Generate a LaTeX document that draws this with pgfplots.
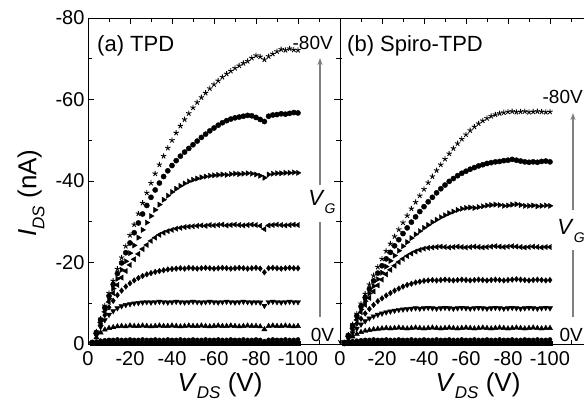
\documentclass[border=0pt]{standalone}
\usepackage{fontspec}
\setmainfont{Liberation Sans}
\usepackage{pgfplots}
\usepackage{pgfplotstable}
\pgfplotsset{compat=1.18}
\usetikzlibrary{arrows.meta}

\newcommand\fs[1]{\fontsize{#1}{#1}\selectfont}

% (a) TPD: I_DS (nA) vs V_DS (V), one column per gate voltage
\pgfplotstableread{
V g0 g10 g20 g30 g40 g50 g60 g70 g80
-2 -0.1 -0.2 -0.3 -0.3 -0.3 -0.3 -0.3 -0.3 -0.3
-4 -0.2 -0.6 -1.6 -2.1 -2.4 -2.6 -2.7 -2.8 -3.0
-6 -0.2 -0.8 -2.8 -4.2 -4.9 -5.3 -5.6 -5.9 -6.2
-8 -0.2 -0.9 -3.5 -5.9 -7.1 -7.9 -8.4 -8.9 -9.4
-10 -0.3 -1.0 -3.9 -7.2 -9.0 -10.3 -11.1 -11.8 -12.5
-12 -0.2 -1.0 -4.1 -8.1 -10.6 -12.5 -13.6 -14.6 -15.5
-14 -0.2 -1.1 -4.3 -8.8 -12.0 -14.5 -16.0 -17.3 -18.4
-16 -0.3 -1.0 -4.4 -9.3 -13.1 -16.3 -18.2 -19.9 -21.2
-18 -0.2 -1.0 -4.3 -9.6 -14.1 -17.9 -20.3 -22.4 -24.0
-20 -0.2 -1.1 -4.5 -9.8 -14.9 -19.4 -22.3 -24.8 -26.7
-22 -0.3 -1.0 -4.4 -10.0 -15.6 -20.8 -24.2 -27.3 -29.3
-24 -0.2 -1.0 -4.4 -10.1 -16.2 -22.1 -26.1 -29.7 -32.0
-26 -0.2 -1.1 -4.5 -10.2 -16.7 -23.3 -28.0 -31.9 -34.6
-28 -0.3 -1.0 -4.4 -10.3 -17.1 -24.3 -29.8 -34.0 -37.1
-30 -0.2 -1.0 -4.3 -10.2 -17.4 -25.3 -31.4 -36.0 -39.5
-32 -0.2 -1.1 -4.4 -10.3 -17.7 -26.1 -32.9 -37.8 -41.8
-34 -0.3 -1.0 -4.5 -10.4 -17.9 -26.8 -34.2 -39.5 -44.0
-36 -0.2 -1.0 -4.4 -10.3 -18.1 -27.3 -35.4 -41.1 -46.1
-38 -0.2 -1.1 -4.4 -10.2 -18.3 -27.7 -36.4 -42.5 -48.1
-40 -0.3 -1.0 -4.5 -10.3 -18.4 -28.0 -37.3 -43.8 -50.0
-42 -0.2 -1.0 -4.4 -10.4 -18.5 -28.3 -38.1 -45.0 -51.8
-44 -0.2 -1.1 -4.3 -10.3 -18.6 -28.5 -38.8 -46.1 -53.5
-46 -0.3 -1.0 -4.4 -10.2 -18.5 -28.7 -39.4 -47.1 -55.1
-48 -0.2 -1.0 -4.5 -10.3 -18.7 -28.8 -39.9 -48.0 -56.6
-50 -0.2 -1.1 -4.4 -10.4 -18.6 -28.9 -40.3 -48.9 -58.0
-52 -0.3 -1.0 -4.4 -10.3 -18.5 -29.0 -40.6 -49.8 -59.3
-54 -0.2 -1.0 -4.5 -10.2 -18.6 -29.1 -40.9 -50.7 -60.5
-56 -0.2 -1.1 -4.4 -10.3 -18.7 -29.0 -41.1 -51.5 -61.6
-58 -0.3 -1.0 -4.3 -10.4 -18.6 -29.2 -41.3 -52.3 -62.7
-60 -0.2 -1.0 -4.4 -10.3 -18.5 -29.1 -41.4 -53.0 -63.7
-62 -0.2 -1.1 -4.5 -10.2 -18.6 -29.2 -41.5 -53.7 -64.6
-64 -0.3 -1.0 -4.4 -10.3 -18.7 -29.3 -41.6 -54.3 -65.5
-66 -0.2 -1.0 -4.4 -10.4 -18.6 -29.1 -41.5 -54.8 -66.3
-68 -0.2 -1.1 -4.5 -10.3 -18.5 -29.2 -41.7 -55.2 -67.0
-70 -0.3 -1.0 -4.4 -10.2 -18.6 -29.3 -41.8 -55.5 -67.7
-72 -0.2 -1.0 -4.3 -10.3 -18.7 -29.2 -41.7 -55.7 -68.3
-74 -0.2 -1.1 -4.4 -10.4 -18.6 -29.1 -41.8 -55.9 -68.9
-76 -0.3 -1.0 -4.5 -10.3 -18.5 -29.2 -41.9 -56.1 -69.4
-78 -0.2 -1.0 -4.4 -10.2 -18.6 -29.3 -41.8 -56.0 -70.2
-80 -0.2 -1.1 -4.4 -10.3 -18.7 -29.2 -41.6 -55.6 -70.8
-82 -0.3 -1.0 -4.3 -10.2 -18.5 -29.0 -41.3 -55.1 -70.5
-84 -0.1 -0.7 -3.6 -9.4 -17.6 -28.2 -40.8 -54.6 -69.8
-86 -0.2 -1.0 -4.4 -10.3 -18.6 -29.1 -41.6 -55.9 -70.6
-88 -0.2 -1.1 -4.5 -10.4 -18.7 -29.2 -41.8 -56.2 -71.2
-90 -0.3 -1.0 -4.4 -10.3 -18.6 -29.3 -41.9 -56.3 -71.8
-92 -0.2 -1.0 -4.4 -10.2 -18.5 -29.2 -41.9 -56.5 -72.3
-94 -0.2 -1.1 -4.5 -10.3 -18.6 -29.1 -42.0 -56.4 -72.1
-96 -0.3 -1.0 -4.4 -10.4 -18.7 -29.2 -42.0 -56.6 -72.5
-98 -0.2 -1.0 -4.3 -10.3 -18.6 -29.3 -42.1 -56.8 -72.2
-100 -0.2 -1.1 -4.4 -10.3 -18.6 -29.2 -42.0 -56.7 -72.1
}\tpd

% (b) Spiro-TPD
\pgfplotstableread{
V g0 g10 g20 g30 g40 g50 g60 g70 g80
-2 -0.1 -0.1 -0.2 -0.2 -0.3 -0.3 -0.3 -0.3 -0.3
-4 -0.2 -0.5 -1.0 -1.4 -1.7 -1.9 -2.0 -2.1 -2.2
-6 -0.2 -0.7 -1.8 -2.7 -3.5 -3.9 -4.2 -4.5 -4.8
-8 -0.3 -0.8 -2.4 -3.8 -5.0 -5.9 -6.4 -6.9 -7.4
-10 -0.2 -0.9 -2.9 -4.8 -6.2 -7.8 -8.5 -9.2 -9.9
-12 -0.2 -1.0 -3.2 -5.6 -7.5 -9.6 -10.5 -11.4 -12.3
-14 -0.3 -1.0 -3.4 -6.3 -8.6 -11.3 -12.4 -13.5 -14.6
-16 -0.2 -1.1 -3.6 -6.8 -9.6 -12.9 -14.2 -15.5 -16.8
-18 -0.2 -1.0 -3.7 -7.2 -10.5 -14.4 -15.9 -17.4 -18.9
-20 -0.3 -1.0 -3.8 -7.5 -11.2 -15.8 -17.5 -19.2 -20.9
-22 -0.2 -1.1 -3.9 -7.8 -11.9 -17.1 -19.0 -20.9 -22.8
-24 -0.2 -1.0 -3.8 -8.0 -12.5 -18.2 -20.4 -22.5 -24.6
-26 -0.3 -1.0 -3.9 -8.2 -13.1 -19.2 -21.7 -24.1 -26.4
-28 -0.2 -1.1 -4.0 -8.4 -13.6 -20.1 -22.9 -25.6 -28.1
-30 -0.2 -1.0 -3.9 -8.5 -14.1 -20.9 -24.0 -27.1 -29.8
-32 -0.3 -1.0 -3.8 -8.6 -14.5 -21.6 -25.0 -28.5 -31.5
-34 -0.2 -1.1 -3.9 -8.7 -14.8 -22.2 -26.0 -29.9 -33.2
-36 -0.2 -1.0 -4.0 -8.8 -15.1 -22.7 -26.9 -31.2 -34.8
-38 -0.3 -1.0 -3.9 -8.7 -15.3 -23.1 -27.7 -32.5 -36.4
-40 -0.2 -1.1 -3.8 -8.8 -15.5 -23.4 -28.5 -33.7 -38.0
-42 -0.2 -1.0 -3.9 -8.9 -15.6 -23.6 -29.2 -34.9 -39.6
-44 -0.3 -1.0 -4.0 -8.8 -15.7 -23.7 -29.9 -36.0 -41.1
-46 -0.2 -1.1 -3.9 -8.7 -15.6 -23.8 -30.5 -37.1 -42.6
-48 -0.2 -1.0 -3.8 -8.8 -15.7 -23.9 -31.1 -38.1 -44.0
-50 -0.3 -1.0 -3.9 -8.9 -15.8 -23.8 -31.6 -39.0 -45.4
-52 -0.2 -1.1 -4.0 -8.8 -15.7 -23.7 -32.1 -39.9 -46.7
-54 -0.2 -1.0 -3.9 -8.7 -15.6 -23.8 -32.5 -40.6 -48.0
-56 -0.3 -1.0 -3.8 -8.8 -15.7 -23.9 -32.9 -41.3 -49.2
-58 -0.2 -1.1 -3.9 -8.9 -15.8 -23.8 -33.2 -41.9 -50.3
-60 -0.2 -1.0 -4.0 -8.8 -15.7 -23.7 -33.4 -42.4 -51.4
-62 -0.3 -1.0 -3.9 -8.7 -15.6 -23.8 -33.5 -42.9 -52.4
-64 -0.2 -1.1 -3.8 -8.8 -15.7 -23.9 -33.4 -43.3 -53.3
-66 -0.2 -1.0 -3.9 -8.9 -15.8 -23.8 -33.6 -43.7 -54.1
-68 -0.3 -1.0 -4.0 -8.8 -15.7 -23.7 -33.8 -44.0 -54.8
-70 -0.2 -1.1 -3.9 -8.7 -15.6 -23.8 -34.0 -44.3 -55.4
-72 -0.2 -1.0 -3.8 -8.8 -15.7 -23.9 -34.1 -44.5 -55.9
-74 -0.3 -1.0 -3.9 -8.9 -15.8 -24.0 -34.2 -44.7 -56.3
-76 -0.2 -1.1 -4.0 -8.8 -15.7 -23.9 -34.1 -44.8 -56.6
-78 -0.2 -1.0 -3.9 -8.7 -15.6 -23.8 -33.9 -45.0 -56.8
-80 -0.3 -1.0 -3.8 -8.8 -15.7 -23.9 -34.0 -45.1 -57.0
-82 -0.2 -1.1 -3.9 -8.9 -15.8 -24.0 -34.2 -45.3 -57.1
-84 -0.2 -1.0 -4.0 -8.8 -15.9 -23.9 -34.3 -45.1 -56.9
-86 -0.3 -1.0 -3.9 -8.7 -15.8 -23.8 -34.1 -44.9 -57.0
-88 -0.2 -1.1 -3.8 -8.8 -15.7 -23.7 -33.9 -44.7 -57.1
-90 -0.2 -1.0 -3.9 -8.9 -15.6 -23.8 -33.9 -44.6 -56.9
-92 -0.3 -1.0 -4.0 -8.8 -15.7 -23.9 -34.0 -44.7 -57.0
-94 -0.2 -1.1 -3.9 -8.7 -15.8 -23.8 -33.8 -44.6 -57.1
-96 -0.2 -1.0 -3.8 -8.8 -15.7 -23.7 -33.9 -44.8 -57.0
-98 -0.3 -1.0 -3.9 -8.9 -15.6 -23.8 -34.0 -44.9 -56.9
-100 -0.2 -1.1 -3.9 -8.8 -15.7 -23.8 -33.9 -44.7 -57.0
}\spiro

\pgfplotsset{
  panel/.style={
    scale only axis, height=326pt,
    ymin=-80, ymax=0, y dir=reverse,
    xmax=0, x dir=reverse,
    xtick={0,-20,-40,-60,-80,-100},
    xticklabels={0,-20,-40,-60,-80,-100},
    minor xtick={-10,-30,-50,-70,-90,-110},
    ytick={0,-20,-40,-60,-80},
    minor ytick={-10,-30,-50,-70},
    tick align=inside,
    major tick length=6pt, minor tick length=4pt,
    every tick/.style={black, line width=0.9pt},
    axis line style={line width=0.9pt},
    ticklabel style={font=\fs{20}},
    xticklabel style={yshift=-4pt},
    clip=false,
    every axis plot/.append style={only marks, black},
  },
  s0/.style={mark=square*, mark size=2pt},
  s1/.style={mark=*, mark size=2.1pt},
  s2/.style={mark=triangle*, mark size=3pt},
  s3/.style={mark=triangle*, mark size=3pt, mark options={rotate=180}},
  s4/.style={mark=diamond*, mark size=2.8pt},
  s5/.style={mark=triangle*, mark size=3pt, mark options={rotate=90}},
  s6/.style={mark=triangle*, mark size=3pt, mark options={rotate=-90}},
  s7/.style={mark=*, mark size=2.6pt},
  s8/.style={mark=star, mark size=2.8pt, mark options={line width=0.9pt}},
}

\begin{document}
\begin{tikzpicture}
\begin{axis}[panel, at={(0pt,0pt)}, anchor=south west, width=252pt, xmin=-120,
  yticklabels={0,-20,-40,-60,-80}]
\addplot[s0] table[x=V, y=g0] {\tpd};
\addplot[s1] table[x=V, y=g10] {\tpd};
\addplot[s2] table[x=V, y=g20] {\tpd};
\addplot[s3] table[x=V, y=g30] {\tpd};
\addplot[s4] table[x=V, y=g40] {\tpd};
\addplot[s5] table[x=V, y=g50] {\tpd};
\addplot[s6] table[x=V, y=g60] {\tpd};
\addplot[s7] table[x=V, y=g70] {\tpd};
\addplot[s8] table[x=V, y=g80] {\tpd};
\end{axis}

\begin{axis}[panel, at={(252pt,0pt)}, anchor=south west, width=244pt, xmin=-116.2,
  yticklabels={}, axis y line=left,
  every non boxed y axis/.append style={y axis line style={-}, ytick align=inside}]
\addplot[s0] table[x=V, y=g0] {\spiro};
\addplot[s1] table[x=V, y=g10] {\spiro};
\addplot[s2] table[x=V, y=g20] {\spiro};
\addplot[s3] table[x=V, y=g30] {\spiro};
\addplot[s4] table[x=V, y=g40] {\spiro};
\addplot[s5] table[x=V, y=g50] {\spiro};
\addplot[s6] table[x=V, y=g60] {\spiro};
\addplot[s7] table[x=V, y=g70] {\spiro};
\addplot[s8] table[x=V, y=g80] {\spiro};
\end{axis}

% axis titles
\node[rotate=90, anchor=base] at (-51.5pt,151pt)
  {\fs{26}\textit{I}\raisebox{-0.3em}{\fs{17}\textit{DS}} (nA)};
\node[anchor=base] at (132pt,-47pt)
  {\fs{26}\textit{V}\raisebox{-0.3em}{\fs{17}\textit{DS}} (V)};
\node[anchor=base] at (390pt,-47pt)
  {\fs{26}\textit{V}\raisebox{-0.3em}{\fs{17}\textit{DS}} (V)};

% panel (a) annotations
\node[anchor=west, inner sep=0pt] at (9pt,298pt) {\fs{22}(a) TPD};
\node[anchor=east, inner sep=0pt] at (245pt,301pt) {\fs{19}-80V};
\draw[gray, line width=1.2pt, -{Stealth[length=7pt,width=5pt]}] (232pt,159pt) -- (232pt,286pt);
\draw[gray, line width=1.2pt] (232pt,27pt) -- (232pt,122pt);
\node[inner sep=0pt] at (234pt,142pt) {\fs{22}\textit{V}\raisebox{-0.35em}{\fs{14}\textit{G}}};
\node[inner sep=0pt] at (234.5pt,9pt) {\fs{19}0V};

% panel (b) annotations
\node[anchor=west, inner sep=0pt] at (259pt,298pt) {\fs{22}(b) Spiro-TPD};
\node[anchor=east, inner sep=0pt] at (495pt,247pt) {\fs{19}-80V};
\draw[gray, line width=1.2pt, -{Stealth[length=7pt,width=5pt]}] (485pt,134pt) -- (485pt,231pt);
\draw[gray, line width=1.2pt] (485pt,27pt) -- (485pt,94pt);
\node[inner sep=0pt] at (483pt,113pt) {\fs{22}\textit{V}\raisebox{-0.35em}{\fs{14}\textit{G}}};
\node[anchor=east, inner sep=0pt] at (495pt,9pt) {\fs{19}0V};

\pgfresetboundingbox
\path[use as bounding box] (-88pt,-63pt) rectangle (496pt,344pt);
\end{tikzpicture}
\end{document}
